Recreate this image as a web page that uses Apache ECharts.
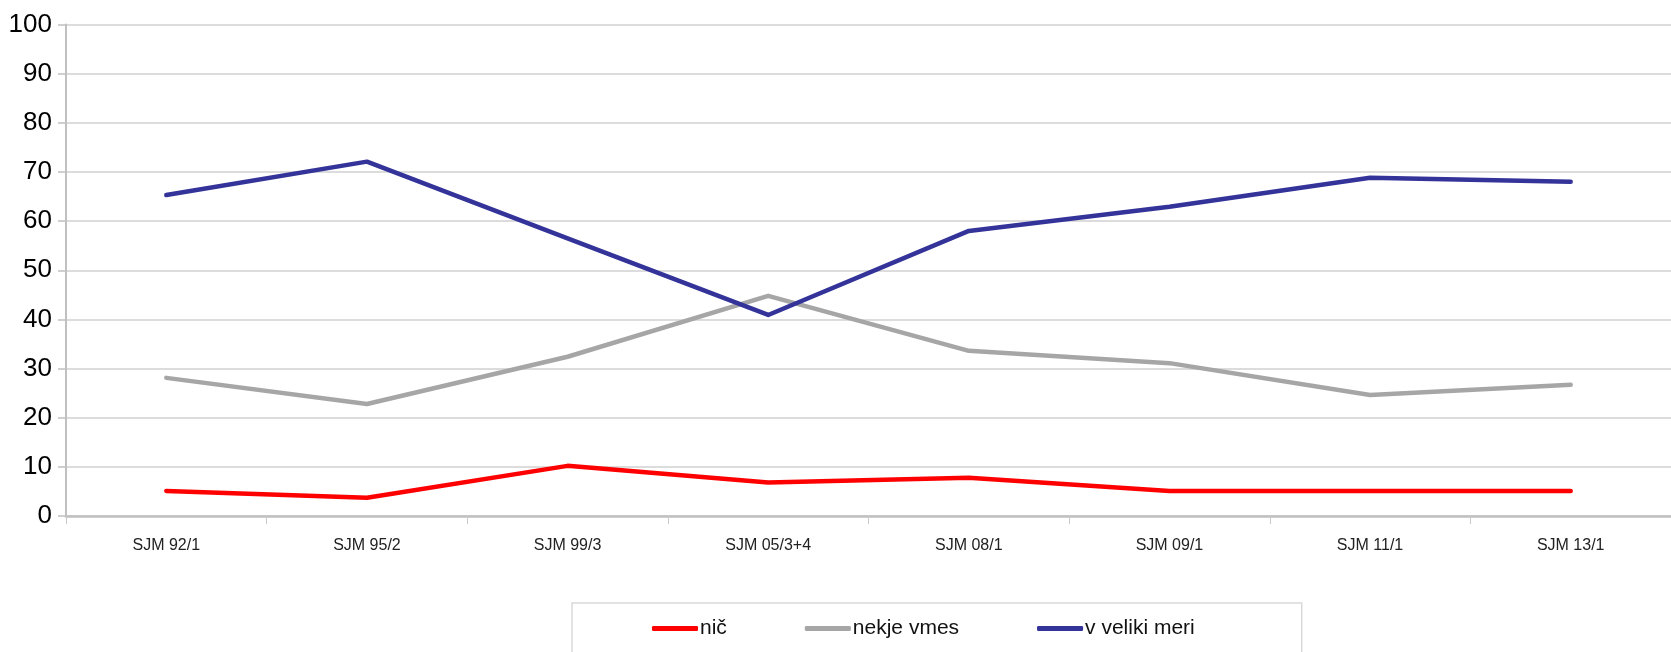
<!DOCTYPE html>
<html>
<head>
<meta charset="utf-8">
<title>SJM</title>
<script src="https://cdn.jsdelivr.net/npm/echarts@6/dist/echarts.min.js"></script>
<style>
    html, body {
        margin: 0;
        padding: 0;
        background: #ffffff;
    }
    #main {
        width: 1671px;
        height: 652px;
    }
</style>
</head>
<body>
<div id="main"></div>
<script>
// kategorije (x os)
const categories = ['SJM 92/1', 'SJM 95/2', 'SJM 99/3', 'SJM 05/3+4', 'SJM 08/1', 'SJM 09/1', 'SJM 11/1', 'SJM 13/1']
// serije
const nic = [5.1, 3.7, 10.2, 6.8, 7.8, 5.1, 5.1, 5.1]
const nekjeVmes = [28.1, 22.8, 32.4, 44.8, 33.6, 31.1, 24.6, 26.7]
const vVelikiMeri = [65.3, 72.1, 56.5, 40.9, 58.0, 62.9, 68.8, 68.0]
// y os
const yTicks = { min: 0, max: 100, interval: 10 }

const chart = echarts.init(document.getElementById('main'))

const sans = '"Liberation Sans", Arial, sans-serif'

const option = {
    animation: false,
    grid: {
        left: 66,
        top: 24.5,
        width: 1618,
        height: 491.5,
    },
    legend: {
        left: 572,
        top: 603,
        icon: 'roundRect',
        itemWidth: 46,
        itemHeight: 5,
        itemGap: 78,
        padding: [15, 107, 24, 80],
        borderColor: '#d9d9d9',
        borderWidth: 1.5,
        textStyle: {
            fontFamily: sans,
            fontSize: 21,
            color: '#111',
            padding: [0, 0, 0, -3],
        },
        data: ['nič', 'nekje vmes', 'v veliki meri'],
    },
    xAxis: {
        type: 'category',
        data: categories,
        boundaryGap: true,
        axisLine: {
            lineStyle: { color: '#c0c0c0', width: 2.5 },
        },
        axisTick: {
            show: true,
            length: 8,
            lineStyle: { color: '#c8c8c8', width: 1 },
        },
        axisLabel: {
            margin: 22,
            fontFamily: sans,
            fontSize: 16,
            color: '#222',
        },
    },
    yAxis: {
        type: 'value',
        min: yTicks.min,
        max: yTicks.max,
        interval: yTicks.interval,
        axisLine: {
            show: true,
            lineStyle: { color: '#c0c0c0', width: 2 },
        },
        axisTick: {
            show: true,
            length: 8,
            lineStyle: { color: '#c0c0c0', width: 1.5 },
        },
        axisLabel: {
            margin: 14,
            fontFamily: sans,
            fontSize: 26,
            color: '#000',
        },
        splitLine: {
            lineStyle: { color: '#d0d0d0', width: 1.5 },
        },
    },
    series: [
        {
            name: 'nič',
            type: 'line',
            data: nic,
            symbol: 'none',
            color: '#ff0000',
            lineStyle: { width: 4.5, cap: 'round', join: 'round' },
        },
        {
            name: 'nekje vmes',
            type: 'line',
            data: nekjeVmes,
            symbol: 'none',
            color: '#a6a6a6',
            lineStyle: { width: 4.5, cap: 'round', join: 'round' },
        },
        {
            name: 'v veliki meri',
            type: 'line',
            data: vVelikiMeri,
            symbol: 'none',
            color: '#333399',
            lineStyle: { width: 4.5, cap: 'round', join: 'round' },
        },
    ],
}

chart.setOption(option)
</script>
</body>
</html>
